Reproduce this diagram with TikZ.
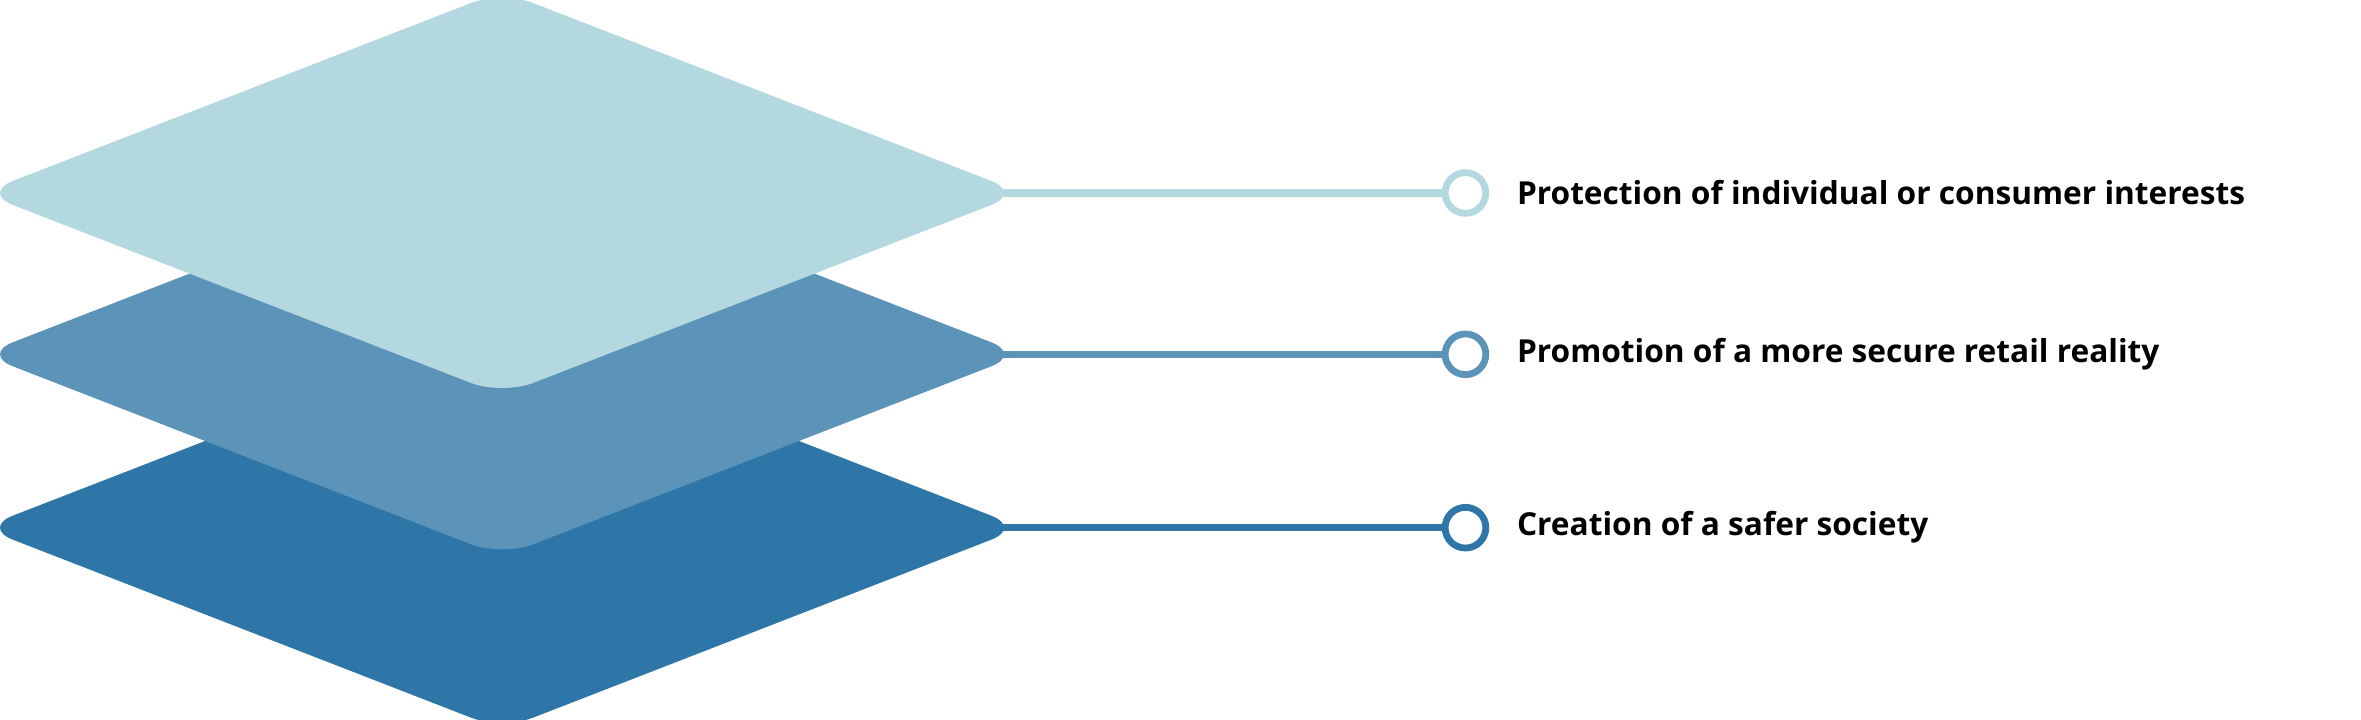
\documentclass[tikz,border=0pt]{standalone}
\usepackage{fontspec}
\setmainfont{Open Sans}
\definecolor{cA}{HTML}{B3D8E0}
\definecolor{cB}{HTML}{5B94B8}
\definecolor{cC}{HTML}{2E76A7}
\begin{document}
\begin{tikzpicture}[x=1pt,y=1pt,
  layer/.style={fill=#1,rounded corners=22pt},
  conn/.style={draw=#1,line width=5pt},
  ring/.style={circle,draw=#1,line width=4.5pt,fill=white,minimum size=27pt,inner sep=0pt},
  lbl/.style={anchor=west,font=\fontsize{21}{24}\selectfont\bfseries,inner sep=0pt}]
\useasboundingbox (0,0) rectangle (1566,477);
\foreach \c/\y/\n/\t in {cC/127/c/{Creation of a safer society},cB/242/b/{Promotion of a more secure retail reality},cA/349/a/{Protection of individual or consumer interests}}{
  \coordinate (\n r) at (660,\y);
  \node[ring=\c] (\n o) at (972,\y) {};
  \draw[conn=\c] (\n r) -- (\n o);
  \node[lbl] (\n t) at (1006,\y) {\t};
  \fill[layer=\c] (-12,\y) -- (333,\y+134) -- (678,\y) -- (333,\y-134) -- cycle;
}
\end{tikzpicture}
\end{document}
